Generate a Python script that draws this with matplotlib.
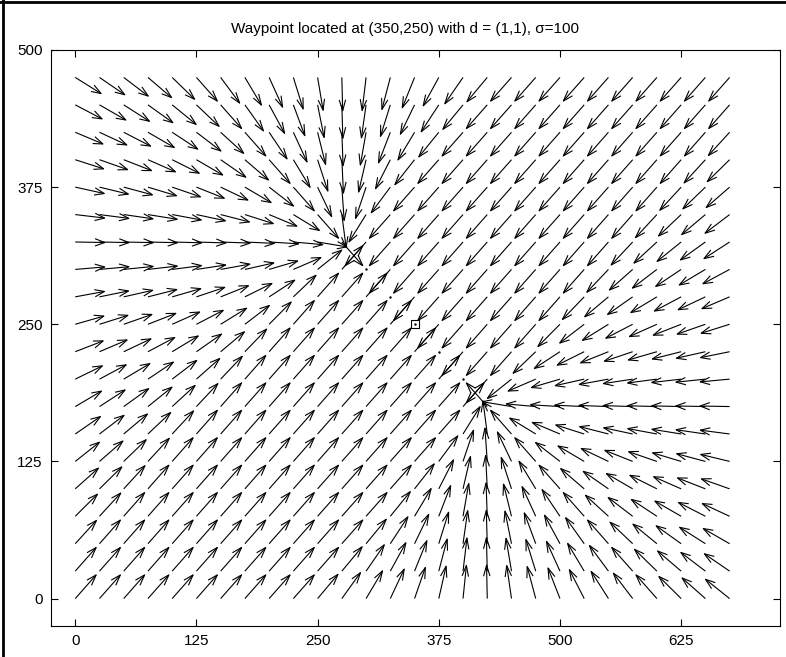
import numpy as np
import matplotlib
matplotlib.use("Agg")
import matplotlib.pyplot as plt
from matplotlib.collections import LineCollection
from matplotlib.lines import Line2D

plt.rcParams["font.family"] = ["Liberation Sans", "DejaVu Sans"]

# sample grid of the field
xs = [0, 25, 50, 75, 100, 125, 150, 175, 200, 225, 250, 275, 300, 325,
      350, 375, 400, 425, 450, 475, 500, 525, 550, 575, 600, 625, 650, 675]
ys = [0, 25, 50, 75, 100, 125, 150, 175, 200, 225, 250, 275, 300, 325,
      350, 375, 400, 425, 450, 475]

# waypoint parameters (from the title)
waypoint = (350, 250)
d = (1, 1)
sigma = 100

xticks = [0, 125, 250, 375, 500, 625]
yticks = [0, 125, 250, 375, 500]
title = "Waypoint located at (350,250) with d = (1,1), \u03c3=100"

# gate through the waypoint, normal to d, half width sigma
dn = np.array(d, float) / np.hypot(*d)
perp = np.array([-dn[1], dn[0]])
p1 = np.array(waypoint, float) + sigma * perp
p2 = np.array(waypoint, float) - sigma * perp

X, Y = np.meshgrid(xs, ys)
P = np.column_stack([X.ravel(), Y.ravel()]).astype(float)
seg = p2 - p1
t = np.clip(((P - p1) @ seg) / (seg @ seg), 0, 1)
V = p1 + t[:, None] * seg - P
nrm = np.hypot(V[:, 0], V[:, 1])
zero = nrm < 1e-6
nrm[zero] = 1.0
U = V[:, 0] / nrm
W = V[:, 1] / nrm
U[zero] = 0
W[zero] = 0

# matlab-like autoscale and open arrow heads
delx = (max(xs) - min(xs)) / len(xs)
dely = (max(ys) - min(ys)) / len(ys)
scale = 0.9 * np.sqrt(delx ** 2 + dely ** 2)
u = U * scale
v = W * scale
x0, y0 = P[:, 0], P[:, 1]
alpha, beta = 0.33, 0.33

lines = []
for i in range(len(x0)):
    if zero[i]:
        continue
    tx, ty = x0[i] + u[i], y0[i] + v[i]
    lines.append([(x0[i], y0[i]), (tx, ty)])
    lines.append([(tx - alpha * (u[i] + beta * v[i]), ty - alpha * (v[i] - beta * u[i])),
                  (tx, ty),
                  (tx - alpha * (u[i] - beta * v[i]), ty - alpha * (v[i] + beta * u[i]))])

fig = plt.figure(figsize=(7.86, 6.57), dpi=100)
ax = fig.add_axes([0.0649, 0.0472, 0.9275, 0.8767])

ax.add_collection(LineCollection(lines, colors="black", linewidths=0.8))
ax.plot(x0[zero], y0[zero], ".", color="black", ms=1.5)
ax.plot(waypoint[0], waypoint[1], "s", mfc="none", mec="black", ms=6, mew=0.8)

ax.set_xlim(-25, 727)
ax.set_ylim(-25, 500)
ax.set_xticks(xticks)
ax.set_yticks(yticks)
ax.tick_params(direction="in", top=True, right=True, length=5, width=0.8,
               labelsize=11, pad=6)
for s in ax.spines.values():
    s.set_linewidth(0.8)

ax.text(0.486, 1.025, title, transform=ax.transAxes, ha="center", va="bottom", fontsize=11)

# outer frame of the figure window
fig.add_artist(Line2D([0.004, 0.004], [0, 1], color="black", lw=2))
fig.add_artist(Line2D([0, 1], [0.997, 0.997], color="black", lw=2))

fig.savefig("out.png", dpi=100)
